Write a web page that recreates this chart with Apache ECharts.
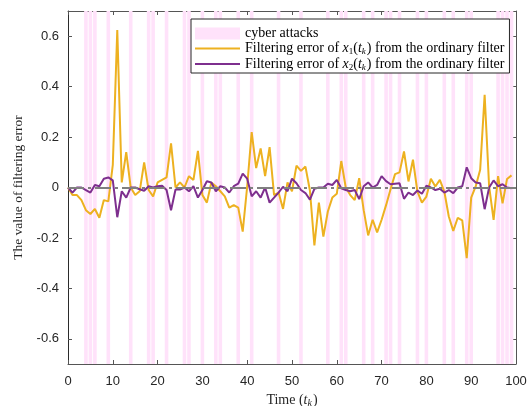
<!DOCTYPE html>
<html>
<head>
<meta charset="utf-8">
<script src="https://cdn.jsdelivr.net/npm/echarts@6/dist/echarts.min.js"></script>
<style>
  html, body { margin: 0; padding: 0; background: #fff; }
  #chart { width: 529px; height: 406px; }
</style>
</head>
<body>
<div id="chart"></div>
<script>
// filtering error of x1(t_k), t_k = 0..99
const errX1 = [
  0, -0.03, -0.03, -0.05, -0.09, -0.105, -0.085, -0.12, -0.05, -0.055,
  0.09, 0.625, 0.02, 0.14, 0, -0.03, -0.015, 0.1, -0.01, -0.035,
  0.02, 0.03, 0.04, 0.175, 0, 0.02, 0, 0.045, 0.03, 0.145,
  -0.03, -0.06, 0.02, 0.005, -0.015, -0.035, -0.08, -0.07, -0.08, -0.175,
  0.005, 0.22, 0.077, 0.155, 0.045, 0.16, -0.03, -0.02, -0.085, 0.02,
  -0.015, 0.087, 0.066, 0.083, -0.012, -0.23, -0.06, -0.195, -0.095, -0.04,
  -0.025, 0.105, 0, -0.03, -0.05, 0.037, -0.09, -0.19, -0.128, -0.178,
  -0.128, -0.07, -0.007, 0.053, 0.06, 0.143, 0.024, 0.11, -0.016, -0.06,
  -0.036, 0.035, 0.004, 0.03, -0.016, -0.115, -0.172, -0.12, -0.13, -0.28,
  -0.04, 0.004, 0.07, 0.368, 0.004, -0.128, 0.045, -0.063, 0.034, 0.048,
]
// filtering error of x2(t_k)
const errX2 = [
  0, -0.02, 0, 0, -0.01, -0.02, 0.01, 0.005, 0.035, 0.04,
  0.028, -0.118, -0.015, -0.04, 0, 0, -0.007, -0.013, 0.005, 0,
  0.005, 0.007, -0.01, -0.09, -0.008, -0.008, 0, -0.015, 0.005, -0.04,
  -0.01, 0.025, 0.02, -0.015, 0.005, 0, -0.02, 0.005, 0.015, 0.055,
  0.035, -0.035, -0.015, -0.04, 0, -0.06, -0.04, -0.02, 0.003, -0.015,
  0.035, 0.017, -0.01, -0.022, -0.048, -0.005, 0, 0, 0.015, 0.01,
  0.03, -0.003, -0.01, -0.015, -0.01, -0.046, 0.005, 0.02, 0, 0.01,
  0.045, 0.025, 0.013, 0.015, 0.017, -0.045, -0.02, -0.03, -0.012, -0.025,
  0.007, 0, -0.01, -0.005, -0.02, -0.01, -0.022, 0, 0.005, 0.08,
  0.037, 0.02, 0.017, -0.086, 0, 0.028, 0.005, 0.013, 0, -0.003,
]
// time steps where a cyber attack happened
const attackTimes = [
  4, 5, 6, 9, 14, 18, 19, 22, 26, 27, 30, 33, 34, 38, 41, 47, 52, 58,
  61, 62, 66, 68, 71, 72, 74, 78, 80, 84, 86, 89, 90, 96, 97, 98, 99,
]
const yTicks = [-0.6, -0.4, -0.2, 0, 0.2, 0.4, 0.6]

const PINK = '#ffe2fa'
const YELLOW = '#edb120'
const PURPLE = '#7e2f8e'
const SERIF = 'Liberation Serif'
const AXIS_COLOR = '#555'
const NO_MARK = { color: 'rgba(0,0,0,0)', borderWidth: 0 }

const legendText = {
  'cyber attacks': 'cyber attacks',
  x1: 'Filtering error of {i|x}{sub|1}({i|t}{subi|k}) from the ordinary filter',
  x2: 'Filtering error of {i|x}{sub|2}({i|t}{subi|k}) from the ordinary filter',
}

const richMath = {
  i: { fontFamily: SERIF, fontStyle: 'italic', fontSize: 14, color: '#000' },
  sub: { fontFamily: SERIF, fontSize: 9, color: '#000', padding: [7, 0, 0, 0] },
  subi: { fontFamily: SERIF, fontStyle: 'italic', fontSize: 9, color: '#000', padding: [7, 1, 0, 0] },
}

const axisBase = {
  min: 0,
  max: 100,
  interval: 10,
  axisLine: { onZero: false, lineStyle: { color: AXIS_COLOR, width: 1 } },
  axisTick: { inside: true, length: 4, lineStyle: { color: AXIS_COLOR } },
  splitLine: { show: false },
}

const yBase = {
  min: -0.7,
  max: 0.7,
  axisLine: { onZero: false, lineStyle: { color: AXIS_COLOR, width: 1 } },
  axisTick: { inside: true, length: 4, customValues: yTicks, lineStyle: { color: AXIS_COLOR } },
  splitLine: { show: false },
}

const chart = echarts.init(document.getElementById('chart'))
const options = {
  animation: false,
  grid: { left: 68, right: 13, top: 11, bottom: 42, containLabel: false, outerBoundsMode: 'none' },
  legend: {
    left: 191,
    top: 19,
    orient: 'vertical',
    backgroundColor: '#fff',
    borderColor: '#262626',
    borderWidth: 1,
    borderRadius: 0,
    padding: [7, 5, 1, 3],
    itemGap: 0,
    itemWidth: 45,
    itemHeight: 12,
    textStyle: { fontFamily: SERIF, fontSize: 14, color: '#000', lineHeight: 15, rich: richMath },
    formatter: name => legendText[name],
    data: [
      { name: 'cyber attacks', icon: 'rect', itemStyle: { color: PINK } },
      { name: 'x1', itemStyle: NO_MARK },
      { name: 'x2', itemStyle: NO_MARK },
    ],
  },
  xAxis: [{
    ...axisBase,
    type: 'value',
    position: 'bottom',
    name: 'Time ({i|t}{subi|k})',
    nameLocation: 'middle',
    nameGap: 24,
    nameTextStyle: {
      fontFamily: SERIF, fontSize: 14, color: '#262626',
      rich: {
        i: { fontFamily: SERIF, fontStyle: 'italic', fontSize: 14, color: '#262626' },
        subi: { fontFamily: SERIF, fontStyle: 'italic', fontSize: 10, color: '#262626', padding: [7, 1, 0, 0] },
      },
    },
    axisLabel: { fontFamily: 'Liberation Sans', fontSize: 13, color: '#262626', margin: 11 },
  }, {
    ...axisBase,
    type: 'value',
    position: 'top',
    axisLabel: { show: false },
  }],
  yAxis: [{
    ...yBase,
    type: 'value',
    position: 'left',
    axisLine: { onZero: false, lineStyle: { color: '#2b2b2b', width: 1 } },
    name: 'The value of filtering error',
    nameLocation: 'middle',
    nameGap: 36,
    nameTextStyle: { fontFamily: SERIF, fontSize: 13.5, color: '#262626' },
    axisLabel: { fontFamily: 'Liberation Sans', fontSize: 13, color: '#262626', margin: 9, customValues: yTicks },
  }, {
    ...yBase,
    type: 'value',
    position: 'right',
    axisLabel: { show: false },
  }],
  series: [{
    name: 'cyber attacks',
    type: 'custom',
    clip: true,
    silent: true,
    itemStyle: { color: PINK },
    data: attackTimes.map(t => [t, 0]),
    encode: { x: 0, y: 1 },
    renderItem: (params, api) => {
      const t = api.value(0)
      const p0 = api.coord([t - 0.4, 0.7])
      const p1 = api.coord([t + 0.4, -0.7])
      return {
        type: 'rect',
        shape: { x: p0[0], y: p0[1], width: p1[0] - p0[0], height: p1[1] - p0[1] },
        style: { fill: PINK },
      }
    },
    markLine: {
      silent: true,
      symbol: ['none', 'none'],
      label: { show: false },
      lineStyle: { color: '#7f7f7f', width: 2, type: [16, 4, 3, 4] },
      data: [{ yAxis: 0 }],
    },
  }, {
    name: 'x1',
    type: 'line',
    showSymbol: false,
    symbol: 'none',
    color: YELLOW,
    lineStyle: { color: YELLOW, width: 2 },
    data: errX1.map((v, i) => [i, v]),
  }, {
    name: 'x2',
    type: 'line',
    showSymbol: false,
    symbol: 'none',
    color: PURPLE,
    lineStyle: { color: PURPLE, width: 2 },
    data: errX2.map((v, i) => [i, v]),
  }],
}
chart.setOption(options)
</script>
</body>
</html>
